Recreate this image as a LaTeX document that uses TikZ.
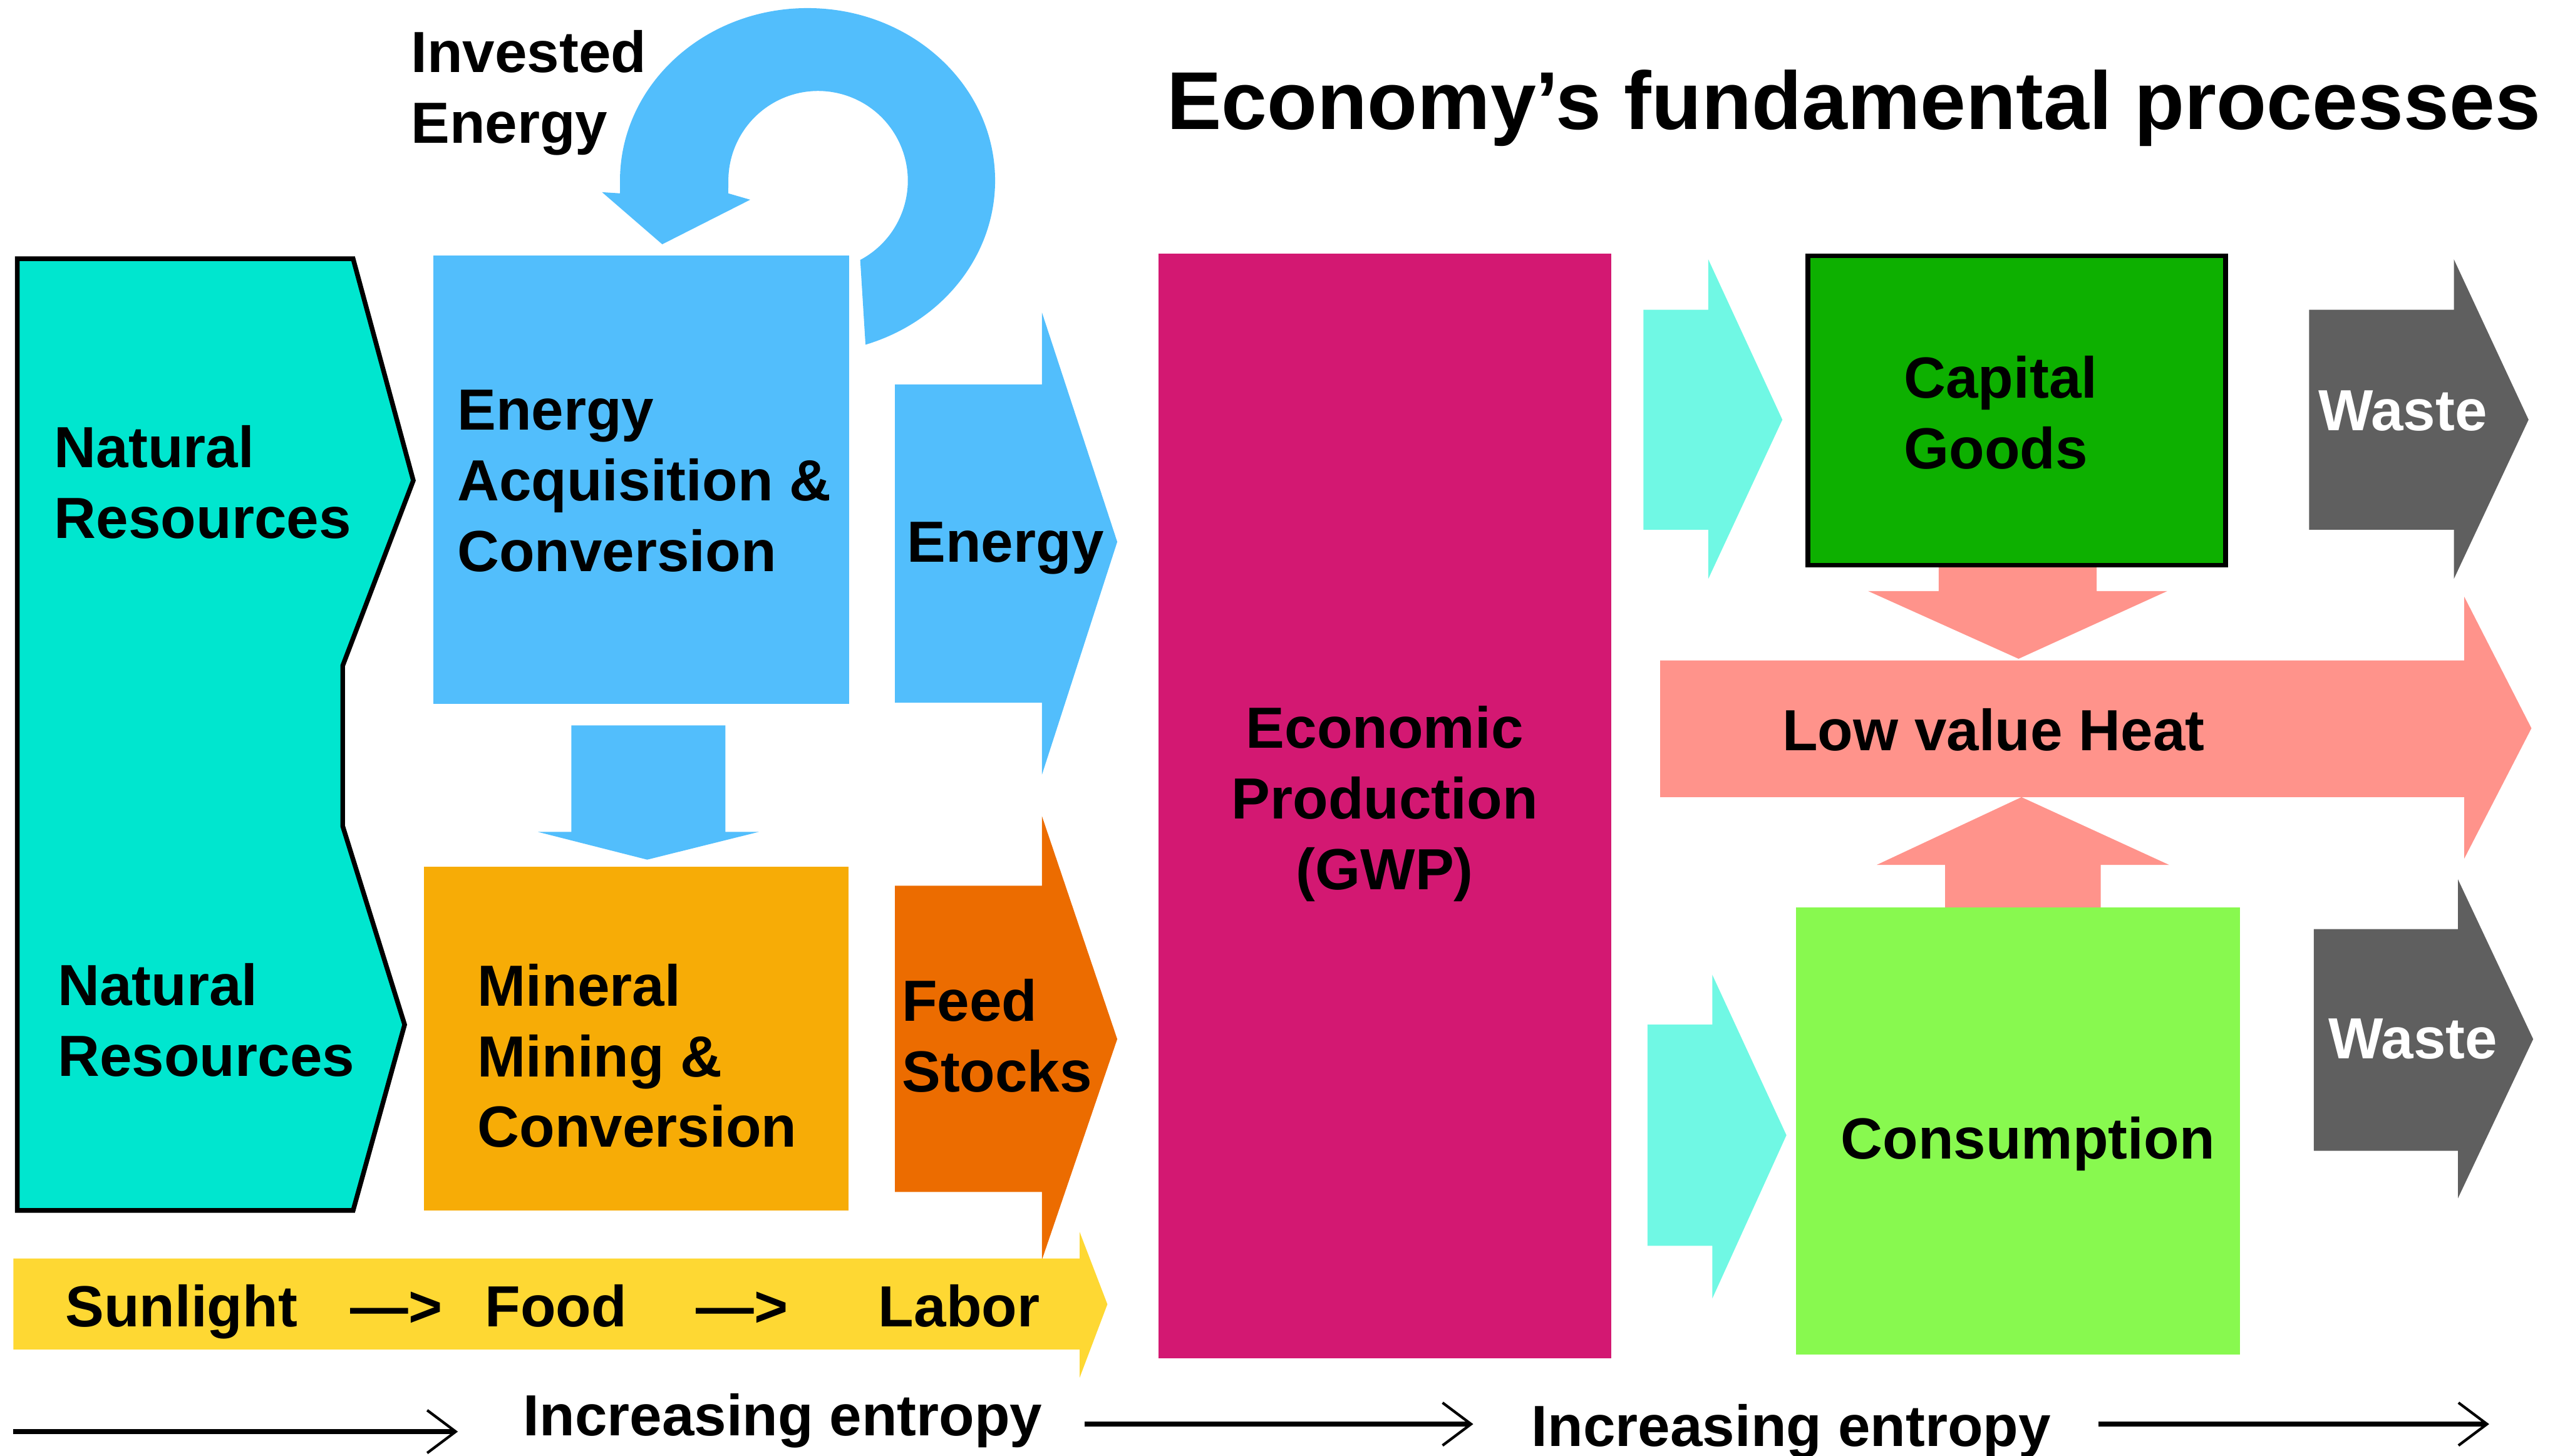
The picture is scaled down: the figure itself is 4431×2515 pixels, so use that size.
\documentclass[tikz,border=0pt]{standalone}
\usepackage{fontspec}
\setmainfont{Liberation Sans}
\usetikzlibrary{arrows.meta}
\definecolor{cTeal}{HTML}{00E6CF}
\definecolor{cBlue}{HTML}{52BEFC}
\definecolor{cMineral}{HTML}{F7AC06}
\definecolor{cFeed}{HTML}{EC6C00}
\definecolor{cYellow}{HTML}{FED833}
\definecolor{cMagenta}{HTML}{D31872}
\definecolor{cCyan}{HTML}{70F8E4}
\definecolor{cGreen}{HTML}{0DB000}
\definecolor{cLime}{HTML}{88F94F}
\definecolor{cSalmon}{HTML}{FF938B}
\definecolor{cGray}{HTML}{5F5F5F}
\begin{document}
\begin{tikzpicture}[x=0.01cm,y=0.01cm,
  lbl/.style={inner sep=0pt, outer sep=0pt, align=left,
    font=\fontsize{28.5}{34.7}\selectfont\bfseries},
  boxnode/.style={rectangle, inner sep=0pt, outer sep=0pt, anchor=north west},
  outline/.style={draw=black, line width=2.3pt},
  entropy/.style={line width=2.6pt,
    -{Straight Barb[length=14pt, width=21pt, line width=1.3pt]}}]
\useasboundingbox (0,0) rectangle (4431,-2515);

% ---------- left column: natural resources ----------
\draw[outline, fill=cTeal]
  (30,-447) -- (610,-447) -- (714,-830) -- (592,-1150) -- (592,-1427)
  -- (699,-1770) -- (610,-2091) -- (30,-2091) -- cycle;
\node[lbl, anchor=north west] (nr1) at (94,-735) {Natural\\Resources};
\node[lbl, anchor=north west] (nr2) at (100,-1664) {Natural\\Resources};

% ---------- invested energy loop ----------
\fill[cBlue] (1071,-334) -- (1071,-312)
  arc[start angle=180, end angle=-72, x radius=324, y radius=298]
  -- (1486,-449)
  arc[start angle=-62, end angle=180, radius=155]
  -- (1258,-334) -- (1296,-345) -- (1144,-422) -- (1040,-332) -- cycle;
\node[lbl, anchor=north west] (inv) at (710,-52) {Invested\\Energy};

% ---------- energy acquisition and mining ----------
\node[boxnode, fill=cBlue, minimum width=7.17cm, minimum height=7.74cm] (eac) at (749,-441) {};
\node[lbl, anchor=north west] (eacl) at (790,-674) {Energy\\Acquisition \&\\Conversion};

\fill[cBlue] (987,-1253) -- (1253,-1253) -- (1253,-1437) -- (1311,-1437)
  -- (1118,-1485) -- (929,-1437) -- (987,-1437) -- cycle;

\node[boxnode, fill=cMineral, minimum width=7.33cm, minimum height=5.94cm] (mmc) at (732,-1497) {};
\node[lbl, anchor=north west] (mmcl) at (825,-1665) {Mineral\\Mining \&\\Conversion};

% ---------- outputs of the first stage ----------
\fill[cBlue] (1546,-664) -- (1800,-664) -- (1800,-540) -- (1930,-936)
  -- (1800,-1338) -- (1800,-1214) -- (1546,-1214) -- cycle;
\node[lbl, anchor=base west] (enl) at (1567,-971) {Energy};

\fill[cFeed] (1546,-1530) -- (1800,-1530) -- (1800,-1410) -- (1930,-1795)
  -- (1800,-2176) -- (1800,-2059) -- (1546,-2059) -- cycle;
\node[lbl, anchor=north west] (fsl) at (1558,-1691) {Feed\\Stocks};

\fill[cYellow] (23,-2174) -- (1865,-2174) -- (1865,-2128) -- (1913,-2253)
  -- (1865,-2380) -- (1865,-2331) -- (23,-2331) -- cycle;
\node[lbl, anchor=base west] (sfl) at (113,-2292)
  {Sunlight\hspace{26pt}—>\hspace{21pt}Food\hspace{34pt}—>\hspace{44.5pt}Labor};

% ---------- economic production ----------
\node[boxnode, fill=cMagenta, minimum width=7.82cm, minimum height=19.07cm] (gwp) at (2001,-438) {};
\node[lbl, align=center, anchor=north] (gwpl) at (2392,-1220) {Economic\\Production\\(GWP)};

% ---------- flows into capital goods and consumption ----------
\fill[cCyan] (2839,-535) -- (2951,-535) -- (2951,-448) -- (3079,-725)
  -- (2951,-1000) -- (2951,-915) -- (2839,-915) -- cycle;
\fill[cCyan] (2846,-1770) -- (2958,-1770) -- (2958,-1684) -- (3086,-1961)
  -- (2958,-2243) -- (2958,-2152) -- (2846,-2152) -- cycle;

% ---------- low value heat ----------
\fill[cSalmon] (3349,-976) -- (3622,-976) -- (3622,-1021) -- (3744,-1021)
  -- (3487,-1138) -- (3227,-1021) -- (3349,-1021) -- cycle;
\fill[cSalmon] (2868,-1141) -- (4257,-1141) -- (4257,-1031) -- (4373,-1258)
  -- (4257,-1483) -- (4257,-1377) -- (2868,-1377) -- cycle;
\fill[cSalmon] (3360,-1568) -- (3360,-1494) -- (3242,-1494) -- (3492,-1377)
  -- (3747,-1494) -- (3629,-1494) -- (3629,-1568) -- cycle;
\node[lbl, anchor=base west] (heat) at (3079,-1296) {Low value Heat};

\node[boxnode, outline, fill=cGreen, minimum width=7.21cm, minimum height=5.34cm] (cap) at (3123,-442) {};
\node[lbl, anchor=north west] (capl) at (3289,-615) {Capital\\Goods};

\node[boxnode, fill=cLime, minimum width=7.67cm, minimum height=7.71cm] (con) at (3102,-1568) {};
\node[lbl, anchor=base west] (conl) at (3180,-2002) {Consumption};

% ---------- waste ----------
\fill[cGray] (3989,-535) -- (4239,-535) -- (4239,-448) -- (4368,-725)
  -- (4239,-1000) -- (4239,-915) -- (3989,-915) -- cycle;
\node[lbl, anchor=base west, text=white] (w1) at (4005,-744) {Waste};
\fill[cGray] (3997,-1605) -- (4246,-1605) -- (4246,-1519) -- (4376,-1795)
  -- (4246,-2070) -- (4246,-1988) -- (3997,-1988) -- cycle;
\node[lbl, anchor=base west, text=white] (w2) at (4023,-1829) {Waste};

% ---------- title ----------
\node[inner sep=0pt, anchor=base west, font=\fontsize{40.3}{48}\selectfont\bfseries]
  (title) at (2015,-223) {Economy’s fundamental processes};

% ---------- entropy axis ----------
\coordinate (e1s) at (23,-2473);   \coordinate (e1e) at (791,-2473);
\coordinate (e2s) at (1874,-2460); \coordinate (e2e) at (2545,-2460);
\coordinate (e3s) at (3625,-2460); \coordinate (e3e) at (4300,-2460);
\draw[entropy] (e1s) -- (e1e);
\draw[entropy] (e2s) -- (e2e);
\draw[entropy] (e3s) -- (e3e);
\node[lbl, anchor=base west] (ie1) at (904,-2480) {Increasing entropy};
\node[lbl, anchor=base west] (ie2) at (2646,-2498) {Increasing entropy};
\end{tikzpicture}
\end{document}
